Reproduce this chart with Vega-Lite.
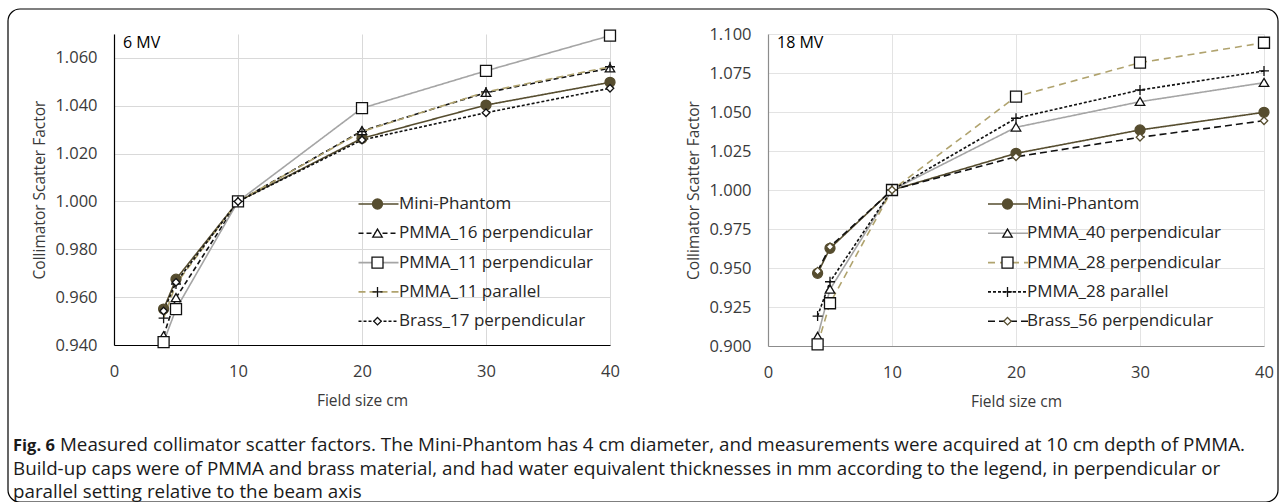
{
  "$schema": "https://vega.github.io/schema/vega-lite/v6.json",
  "background": "white",
  "autosize": {"type": "none"},
  "padding": {"left": 114, "top": 34, "right": 1171, "bottom": 468},
  "config": {
    "font": "Open Sans",
    "view": {"stroke": null},
    "axis": {"grid": true, "gridColor": "#d9d9d9", "gridWidth": 1, "ticks": false, "tickSize": 0, "labelFlush": false, "labelFontSize": 16.5, "labelColor": "#3a3a3a", "titleFontSize": 15.5, "titleFontWeight": "normal", "titleColor": "#3a3a3a", "domainWidth": 1.2, "labelFont": "Open Sans", "titleFont": "Open Sans"},
    "legend": {"labelFont": "Open Sans"}
  },
  "title": {
    "text": "Fig. 6",
    "subtitle": ["\u200b\u2002\u2002\u2002\u2002\u2002Measured collimator scatter factors. The Mini-Phantom has 4 cm diameter, and measurements were acquired at 10 cm depth of PMMA.", "Build-up caps were of PMMA and brass material, and had water equivalent thicknesses in mm according to the legend, in perpendicular or", "parallel setting relative to the beam axis"],
    "orient": "bottom", "anchor": "start", "frame": "group", "dx": -101, "offset": -67,
    "font": "Open Sans", "fontSize": 16.5, "fontWeight": "bold", "color": "#1a1a1a",
    "subtitleFont": "Open Sans", "subtitleFontSize": 18.8, "subtitleColor": "#1a1a1a", "subtitleLineHeight": 23.5, "subtitlePadding": -18.35
  },
  "datasets": {
    "mv6": [
      {"series": "Mini-Phantom", "x": 4, "y": 0.955}, {"series": "Mini-Phantom", "x": 5, "y": 0.9675}, {"series": "Mini-Phantom", "x": 10, "y": 1.0}, {"series": "Mini-Phantom", "x": 20, "y": 1.0264}, {"series": "Mini-Phantom", "x": 30, "y": 1.0403}, {"series": "Mini-Phantom", "x": 40, "y": 1.0498},
      {"series": "PMMA_16 perpendicular", "x": 4, "y": 0.9438}, {"series": "PMMA_16 perpendicular", "x": 5, "y": 0.9597}, {"series": "PMMA_16 perpendicular", "x": 10, "y": 1.0}, {"series": "PMMA_16 perpendicular", "x": 20, "y": 1.0295}, {"series": "PMMA_16 perpendicular", "x": 30, "y": 1.0455}, {"series": "PMMA_16 perpendicular", "x": 40, "y": 1.0557},
      {"series": "PMMA_11 perpendicular", "x": 4, "y": 0.9412}, {"series": "PMMA_11 perpendicular", "x": 5, "y": 0.955}, {"series": "PMMA_11 perpendicular", "x": 10, "y": 1.0}, {"series": "PMMA_11 perpendicular", "x": 20, "y": 1.039}, {"series": "PMMA_11 perpendicular", "x": 30, "y": 1.0546}, {"series": "PMMA_11 perpendicular", "x": 40, "y": 1.0693},
      {"series": "PMMA_11 parallel", "x": 4, "y": 0.9512}, {"series": "PMMA_11 parallel", "x": 5, "y": 0.9655}, {"series": "PMMA_11 parallel", "x": 10, "y": 1.0}, {"series": "PMMA_11 parallel", "x": 20, "y": 1.0292}, {"series": "PMMA_11 parallel", "x": 30, "y": 1.0458}, {"series": "PMMA_11 parallel", "x": 40, "y": 1.0563},
      {"series": "Brass_17 perpendicular", "x": 4, "y": 0.9542}, {"series": "Brass_17 perpendicular", "x": 5, "y": 0.9662}, {"series": "Brass_17 perpendicular", "x": 10, "y": 1.0}, {"series": "Brass_17 perpendicular", "x": 20, "y": 1.0257}, {"series": "Brass_17 perpendicular", "x": 30, "y": 1.0371}, {"series": "Brass_17 perpendicular", "x": 40, "y": 1.0473}
    ],
    "mv18": [
      {"series": "Mini-Phantom", "x": 4, "y": 0.9466}, {"series": "Mini-Phantom", "x": 5, "y": 0.9626}, {"series": "Mini-Phantom", "x": 10, "y": 1.0}, {"series": "Mini-Phantom", "x": 20, "y": 1.0235}, {"series": "Mini-Phantom", "x": 30, "y": 1.0385}, {"series": "Mini-Phantom", "x": 40, "y": 1.0498},
      {"series": "PMMA_40 perpendicular", "x": 4, "y": 0.906}, {"series": "PMMA_40 perpendicular", "x": 5, "y": 0.9363}, {"series": "PMMA_40 perpendicular", "x": 10, "y": 1.0}, {"series": "PMMA_40 perpendicular", "x": 20, "y": 1.0402}, {"series": "PMMA_40 perpendicular", "x": 30, "y": 1.0566}, {"series": "PMMA_40 perpendicular", "x": 40, "y": 1.0688},
      {"series": "PMMA_28 perpendicular", "x": 4, "y": 0.901}, {"series": "PMMA_28 perpendicular", "x": 5, "y": 0.9274}, {"series": "PMMA_28 perpendicular", "x": 10, "y": 1.0}, {"series": "PMMA_28 perpendicular", "x": 20, "y": 1.0598}, {"series": "PMMA_28 perpendicular", "x": 30, "y": 1.0816}, {"series": "PMMA_28 perpendicular", "x": 40, "y": 1.0944},
      {"series": "PMMA_28 parallel", "x": 4, "y": 0.9192}, {"series": "PMMA_28 parallel", "x": 5, "y": 0.9412}, {"series": "PMMA_28 parallel", "x": 10, "y": 1.0}, {"series": "PMMA_28 parallel", "x": 20, "y": 1.046}, {"series": "PMMA_28 parallel", "x": 30, "y": 1.0641}, {"series": "PMMA_28 parallel", "x": 40, "y": 1.0763},
      {"series": "Brass_56 perpendicular", "x": 4, "y": 0.948}, {"series": "Brass_56 perpendicular", "x": 5, "y": 0.9636}, {"series": "Brass_56 perpendicular", "x": 10, "y": 1.0}, {"series": "Brass_56 perpendicular", "x": 20, "y": 1.0213}, {"series": "Brass_56 perpendicular", "x": 30, "y": 1.0338}, {"series": "Brass_56 perpendicular", "x": 40, "y": 1.0444}
    ]
  },
  "spacing": 158,
  "bounds": "flush",
  "resolve": {
    "scale": {"x": "independent", "y": "independent", "stroke": "independent", "strokeDash": "independent", "color": "independent", "fill": "independent", "shape": "independent", "size": "independent"},
    "legend": {"stroke": "independent", "strokeDash": "independent", "color": "independent", "fill": "independent", "shape": "independent", "size": "independent"}
  },
  "hconcat": [
    {
      "width": 496, "height": 311,
      "data": {"name": "mv6"},
      "title": {"text": "6 MV", "orient": "top", "anchor": "start", "frame": "group", "dx": 9, "offset": -23, "fontSize": 16, "fontWeight": "normal", "color": "#000000", "font": "Open Sans"},
      "encoding": {
        "x": {"field": "x", "type": "quantitative", "scale": {"domain": [0, 40], "nice": false}, "axis": {"values": [0, 10, 20, 30, 40], "title": "Field size cm", "domainColor": "#000000", "labelPadding": 18, "titlePadding": 14}},
        "y": {"field": "y", "type": "quantitative", "scale": {"domain": [0.94, 1.07], "nice": false, "zero": false}, "axis": {"values": [0.94, 0.96, 0.98, 1.0, 1.02, 1.04, 1.06], "format": ".3f", "title": "Collimator Scatter Factor", "domainColor": "#000000", "labelPadding": 17, "titlePadding": 7}}
      },
      "layer": [
        {
          "mark": {"type": "line", "strokeWidth": 1.6},
          "encoding": {
            "stroke": {"field": "series", "type": "nominal",
              "scale": {"domain": ["Mini-Phantom", "PMMA_16 perpendicular", "PMMA_11 perpendicular", "PMMA_11 parallel", "Brass_17 perpendicular", "~"], "range": ["#564d2f", "#111111", "#a5a5a5", "#b0a36e", "#111111", "transparent"]},
              "legend": {"orient": "none", "legendX": 243.5, "legendY": 157, "title": null, "values": ["Mini-Phantom", "PMMA_16 perpendicular", "PMMA_11 perpendicular", "PMMA_11 parallel", "Brass_17 perpendicular"], "symbolType": "stroke", "symbolSize": 1600, "symbolStrokeWidth": 1.6, "labelExpr": "''", "clipHeight": 26, "rowPadding": 3.3, "padding": 0, "symbolOffset": 0}},
            "strokeDash": {"field": "series", "type": "nominal",
              "scale": {"domain": ["Mini-Phantom", "PMMA_16 perpendicular", "PMMA_11 perpendicular", "PMMA_11 parallel", "Brass_17 perpendicular", "~"], "range": [[1, 0], [5, 3], [1, 0], [7, 4], [3, 2], [1, 0]]},
              "legend": {"orient": "none", "legendX": 243.5, "legendY": 157, "title": null, "values": ["Mini-Phantom", "PMMA_16 perpendicular", "PMMA_11 perpendicular", "PMMA_11 parallel", "Brass_17 perpendicular"], "symbolType": "stroke", "symbolSize": 1600, "symbolStrokeWidth": 1.6, "labelExpr": "''", "clipHeight": 26, "rowPadding": 3.3, "padding": 0, "symbolOffset": 0}}
          }
        },
        {
          "mark": {"type": "point", "filled": false, "size": 100, "strokeWidth": 1.3, "opacity": 1},
          "encoding": {
            "color": {"field": "series", "type": "nominal",
              "scale": {"domain": ["Mini-Phantom", "PMMA_16 perpendicular", "PMMA_11 perpendicular", "PMMA_11 parallel", "Brass_17 perpendicular"], "range": ["#564d2f", "#111111", "#111111", "#111111", "#111111"]},
              "legend": {"orient": "none", "legendX": 255, "legendY": 157, "title": null, "symbolSize": 100, "symbolStrokeWidth": 1.3, "clipHeight": 26, "rowPadding": 3.3, "padding": 0, "symbolOffset": 0, "labelOffset": 13, "labelFontSize": 17, "labelColor": "#262626", "labelLimit": 400}},
            "fill": {"field": "series", "type": "nominal",
              "scale": {"domain": ["Mini-Phantom", "PMMA_16 perpendicular", "PMMA_11 perpendicular", "PMMA_11 parallel", "Brass_17 perpendicular"], "range": ["#564d2f", "#ffffff", "#ffffff", "transparent", "#ffffff"]},
              "legend": {"orient": "none", "legendX": 255, "legendY": 157, "title": null, "symbolSize": 100, "symbolStrokeWidth": 1.3, "clipHeight": 26, "rowPadding": 3.3, "padding": 0, "symbolOffset": 0, "labelOffset": 13, "labelFontSize": 17, "labelColor": "#262626", "labelLimit": 400}},
            "shape": {"field": "series", "type": "nominal",
              "scale": {"domain": ["Mini-Phantom", "PMMA_16 perpendicular", "PMMA_11 perpendicular", "PMMA_11 parallel", "Brass_17 perpendicular"], "range": ["circle", "M0,-0.85L0.95,0.75L-0.95,0.75Z", "M-1.1,-1.1H1.1V1.1H-1.1Z", "M-1,0H1M0,-1V1", "M0,-0.75L0.75,0L0,0.75L-0.75,0Z"]},
              "legend": {"orient": "none", "legendX": 255, "legendY": 157, "title": null, "symbolSize": 100, "symbolStrokeWidth": 1.3, "clipHeight": 26, "rowPadding": 3.3, "padding": 0, "symbolOffset": 0, "labelOffset": 13, "labelFontSize": 17, "labelColor": "#262626", "labelLimit": 400}}
          }
        },
        {
          "mark": {"type": "point", "opacity": 0, "color": "#000000", "filled": false},
          "encoding": {
            "size": {"field": "y", "type": "quantitative", "scale": {"domain": [0, 2], "range": [4, 4]},
              "legend": {"orient": "none", "legendX": -5, "legendY": -5, "title": null, "values": [1], "symbolType": "M-94,-25H1152A12,12,0,0,1,1164,-13V456A12,12,0,0,1,1152,468H-94A12,12,0,0,1,-106,456V-13A12,12,0,0,1,-94,-25Z", "symbolStrokeColor": "#000000", "symbolFillColor": "transparent", "symbolStrokeWidth": 1.2, "symbolOpacity": 1, "labelExpr": "''", "padding": 0}}
          }
        }
      ]
    },
    {
      "width": 496, "height": 312,
      "data": {"name": "mv18"},
      "title": {"text": "18 MV", "orient": "top", "anchor": "start", "frame": "group", "dx": 9, "offset": -25, "fontSize": 16, "fontWeight": "normal", "color": "#000000", "font": "Open Sans"},
      "encoding": {
        "x": {"field": "x", "type": "quantitative", "scale": {"domain": [0, 40], "nice": false}, "axis": {"values": [0, 10, 20, 30, 40], "title": "Field size cm", "domainColor": "#8c8c8c", "labelPadding": 18, "titlePadding": 14, "gridColor": "#e3e3e3"}},
        "y": {"field": "y", "type": "quantitative", "scale": {"domain": [0.9, 1.1], "nice": false, "zero": false}, "axis": {"values": [0.9, 0.925, 0.95, 0.975, 1.0, 1.025, 1.05, 1.075, 1.1], "format": ".3f", "title": "Collimator Scatter Factor", "domainColor": "#8c8c8c", "labelPadding": 17, "titlePadding": 7, "gridColor": "#e3e3e3"}}
      },
      "layer": [
        {
          "mark": {"type": "line", "strokeWidth": 1.6},
          "encoding": {
            "stroke": {"field": "series", "type": "nominal",
              "scale": {"domain": ["Mini-Phantom", "PMMA_40 perpendicular", "PMMA_28 perpendicular", "PMMA_28 parallel", "Brass_56 perpendicular", "~"], "range": ["#564d2f", "#a5a5a5", "#b0a36e", "#111111", "#111111", "transparent"]},
              "legend": {"orient": "none", "legendX": 219, "legendY": 157, "title": null, "values": ["Mini-Phantom", "PMMA_40 perpendicular", "PMMA_28 perpendicular", "PMMA_28 parallel", "Brass_56 perpendicular"], "symbolType": "stroke", "symbolSize": 1600, "symbolStrokeWidth": 1.6, "labelExpr": "''", "clipHeight": 26, "rowPadding": 3.3, "padding": 0, "symbolOffset": 0}},
            "strokeDash": {"field": "series", "type": "nominal",
              "scale": {"domain": ["Mini-Phantom", "PMMA_40 perpendicular", "PMMA_28 perpendicular", "PMMA_28 parallel", "Brass_56 perpendicular", "~"], "range": [[1, 0], [1, 0], [7, 5], [3, 2], [7, 4], [1, 0]]},
              "legend": {"orient": "none", "legendX": 219, "legendY": 157, "title": null, "values": ["Mini-Phantom", "PMMA_40 perpendicular", "PMMA_28 perpendicular", "PMMA_28 parallel", "Brass_56 perpendicular"], "symbolType": "stroke", "symbolSize": 1600, "symbolStrokeWidth": 1.6, "labelExpr": "''", "clipHeight": 26, "rowPadding": 3.3, "padding": 0, "symbolOffset": 0}}
          }
        },
        {
          "mark": {"type": "point", "filled": false, "size": 100, "strokeWidth": 1.3, "opacity": 1},
          "encoding": {
            "color": {"field": "series", "type": "nominal",
              "scale": {"domain": ["Mini-Phantom", "PMMA_40 perpendicular", "PMMA_28 perpendicular", "PMMA_28 parallel", "Brass_56 perpendicular"], "range": ["#564d2f", "#111111", "#111111", "#111111", "#564d2f"]},
              "legend": {"orient": "none", "legendX": 231, "legendY": 157, "title": null, "symbolSize": 100, "symbolStrokeWidth": 1.3, "clipHeight": 26, "rowPadding": 3.3, "padding": 0, "symbolOffset": 0, "labelOffset": 11, "labelFontSize": 17, "labelColor": "#262626", "labelLimit": 400}},
            "fill": {"field": "series", "type": "nominal",
              "scale": {"domain": ["Mini-Phantom", "PMMA_40 perpendicular", "PMMA_28 perpendicular", "PMMA_28 parallel", "Brass_56 perpendicular"], "range": ["#564d2f", "#ffffff", "#ffffff", "transparent", "#ffffff"]},
              "legend": {"orient": "none", "legendX": 231, "legendY": 157, "title": null, "symbolSize": 100, "symbolStrokeWidth": 1.3, "clipHeight": 26, "rowPadding": 3.3, "padding": 0, "symbolOffset": 0, "labelOffset": 11, "labelFontSize": 17, "labelColor": "#262626", "labelLimit": 400}},
            "shape": {"field": "series", "type": "nominal",
              "scale": {"domain": ["Mini-Phantom", "PMMA_40 perpendicular", "PMMA_28 perpendicular", "PMMA_28 parallel", "Brass_56 perpendicular"], "range": ["circle", "M0,-0.85L0.95,0.75L-0.95,0.75Z", "M-1.1,-1.1H1.1V1.1H-1.1Z", "M-1,0H1M0,-1V1", "M0,-0.75L0.75,0L0,0.75L-0.75,0Z"]},
              "legend": {"orient": "none", "legendX": 231, "legendY": 157, "title": null, "symbolSize": 100, "symbolStrokeWidth": 1.3, "clipHeight": 26, "rowPadding": 3.3, "padding": 0, "symbolOffset": 0, "labelOffset": 11, "labelFontSize": 17, "labelColor": "#262626", "labelLimit": 400}}
          }
        }
      ]
    }
  ]
}
